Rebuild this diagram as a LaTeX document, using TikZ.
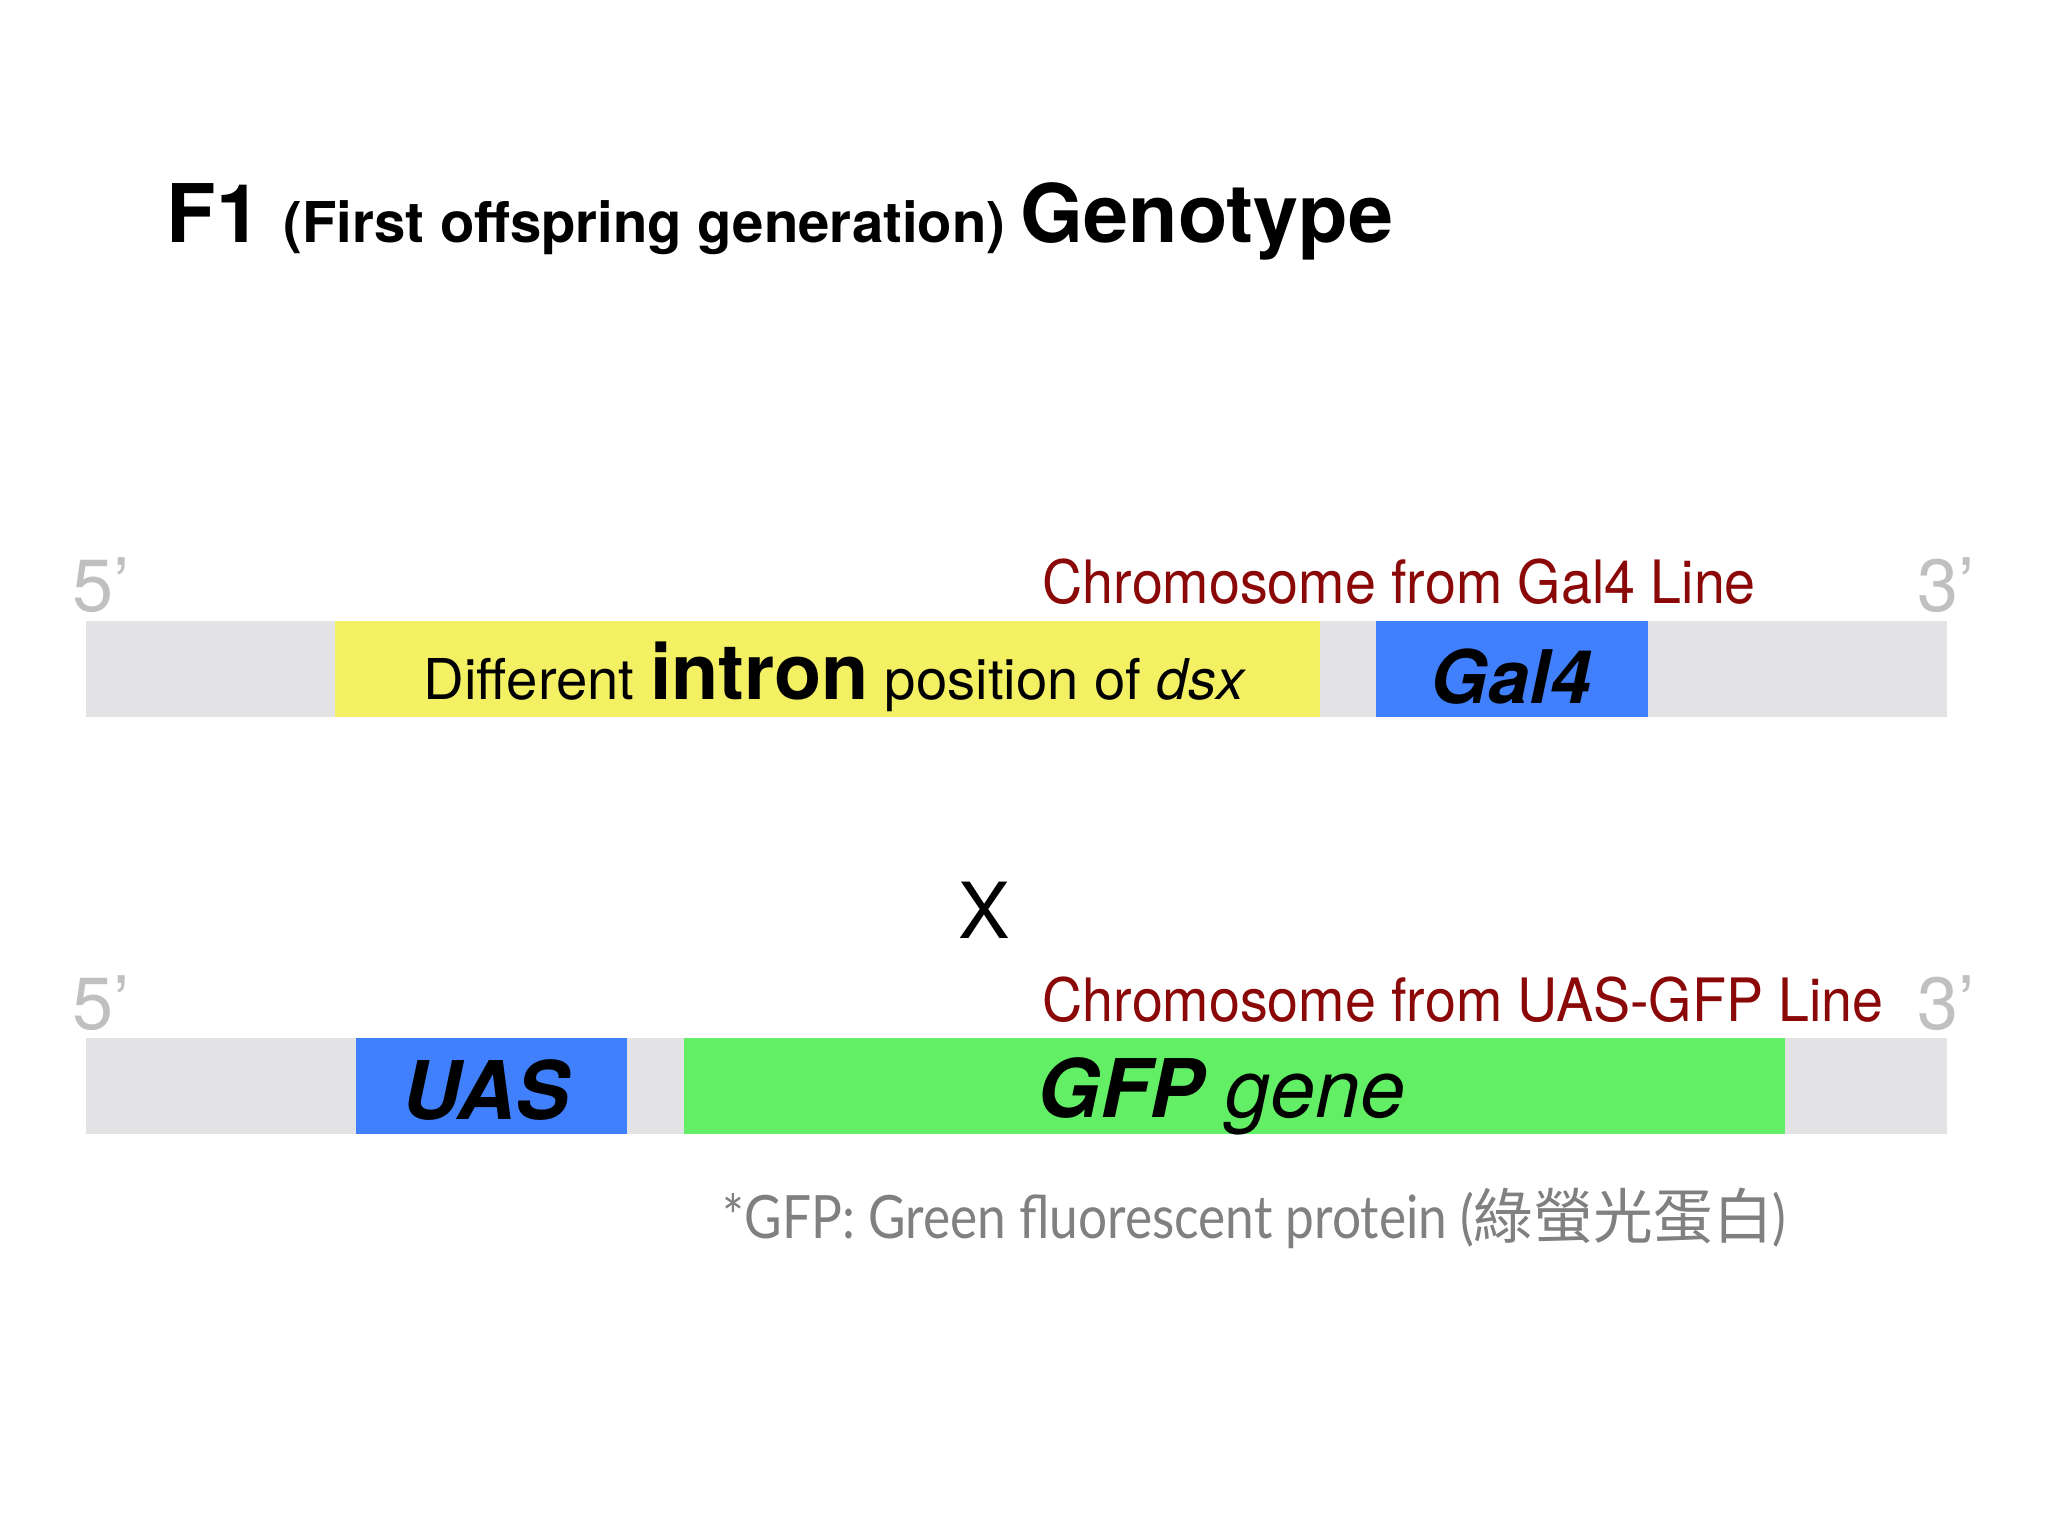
\documentclass[tikz,border=0pt]{standalone}
\usepackage{fontspec}
\setmainfont{TeX Gyre Heros}
\newfontfamily\condfont[FakeStretch=0.93]{TeX Gyre Heros}
\newfontfamily\notefont[FakeStretch=0.86]{Lato}
\newfontfamily\cjkfont{Noto Sans CJK TC}
\usetikzlibrary{positioning}
\definecolor{chromgray}{RGB}{227,227,229}
\definecolor{intronyellow}{RGB}{243,240,100}
\definecolor{geneblue}{RGB}{64,128,252}
\definecolor{gfpgreen}{RGB}{98,238,101}
\definecolor{linered}{RGB}{139,8,8}
\definecolor{primegray}{RGB}{192,192,192}
\definecolor{notegray}{RGB}{128,128,128}

\begin{document}
\begin{tikzpicture}[x=0.01cm, y=-0.01cm,
    chrom/.style={fill=chromgray, inner sep=0pt, minimum height=0.96cm, minimum width=18.6cm, anchor=north west},
    seg/.style={inner sep=0pt, minimum height=0.96cm, anchor=north west},
    prime/.style={text=primegray, font=\fontsize{21}{25}\selectfont, anchor=base west, inner sep=0pt},
    linelbl/.style={text=linered, font=\condfont\fontsize{17}{20}\selectfont, anchor=base west, inner sep=0pt},
    genelbl/.style={anchor=base, inner sep=0pt},
]
    \useasboundingbox[fill=white] (0,0) rectangle (2048,1536);

    % Title
    \node[anchor=base west, inner sep=0pt, font=\bfseries] (title) at (166,242)
        {\fontsize{23}{27}\selectfont F1 \fontsize{16}{19}\selectfont (First offspring generation) \fontsize{23}{27}\selectfont Genotype};

    % Chromosome from Gal4 line
    \node[chrom] (gal4chr) at (85,620) {};
    \node[seg, fill=intronyellow, minimum width=9.85cm] (intron) at (334,620) {};
    \node[seg, fill=geneblue, minimum width=2.72cm] (gal4) at (1375,620) {};
    \node[prime] (top5) at (72,611) {5’};
    \node[prime] (top3) at (1917,611) {3’};
    \node[linelbl] (gal4line) at (1042,603) {Chromosome from Gal4 Line};
    \node[anchor=base, inner sep=0pt, font=\fontsize{16}{19}\selectfont] (introntxt) at (835,699)
        {Different {\bfseries\fontsize{22}{26}\selectfont intron} position of \textit{dsx}};
    \node[genelbl, font=\bfseries\itshape\fontsize{21}{25}\selectfont] (gal4txt) at (1511,703) {Gal4};

    % Cross
    \node[anchor=base, inner sep=0pt, font=\fontsize{22}{26}\selectfont] (cross) at (984,938) {X};

    % Chromosome from UAS-GFP line
    \node[chrom] (uaschr) at (85,1037) {};
    \node[seg, fill=geneblue, minimum width=2.71cm] (uas) at (355,1037) {};
    \node[seg, fill=gfpgreen, minimum width=11.01cm] (gfp) at (683,1037) {};
    \node[prime] (bot5) at (72,1029) {5’};
    \node[prime] (bot3) at (1917,1029) {3’};
    \node[linelbl] (uasline) at (1042,1021) {Chromosome from UAS-GFP Line};
    \node[genelbl, font=\bfseries\itshape\fontsize{23}{27}\selectfont] (uastxt) at (486,1119) {UAS};
    \node[genelbl, font=\itshape\fontsize{23}{27}\selectfont] (gfptxt) at (1221,1117)
        {{\bfseries GFP} gene};

    % Footnote
    \node[anchor=base west, inner sep=0pt, text=notegray, font=\notefont\fontsize{17}{20}\selectfont] (note) at (722,1238)
        {*GFP: Green fluorescent protein ({\cjkfont 綠螢光蛋白})};
\end{tikzpicture}
\end{document}
